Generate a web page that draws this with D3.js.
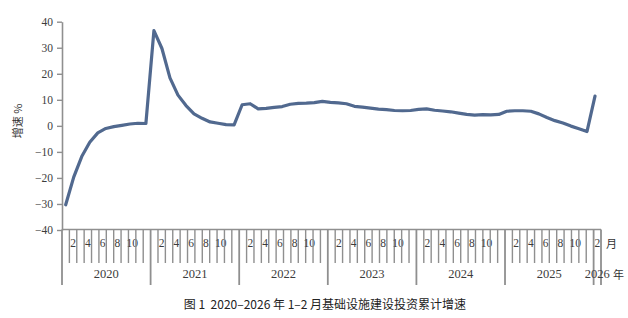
<!DOCTYPE html>
<html>
<head>
<meta charset="utf-8">
<script src="https://cdn.jsdelivr.net/npm/d3@7"></script>
<style>
  body { margin: 0; background: #fff; }
  svg text { font-family: "Liberation Serif", "DejaVu Serif", serif; }
</style>
</head>
<body>
<div id="chart"></div>
<script>
// cumulative growth (%) for 1-2, 1-3, ... 1-12 of each year
const months = [2, 3, 4, 5, 6, 7, 8, 9, 10, 11, 12];
const years = [2020, 2021, 2022, 2023, 2024, 2025];
const v2020 = [-30.3, -19.7, -11.8, -6.3, -2.7, -1.0, -0.3, 0.2, 0.7, 1.0, 0.9];
const v2021 = [36.6, 29.7, 18.4, 11.8, 7.8, 4.6, 2.9, 1.5, 1.0, 0.5, 0.4];
const v2022 = [8.1, 8.5, 6.5, 6.7, 7.1, 7.4, 8.3, 8.6, 8.7, 8.9, 9.4];
const v2023 = [9.0, 8.8, 8.5, 7.5, 7.2, 6.8, 6.4, 6.2, 5.9, 5.8, 5.9];
const v2024 = [6.3, 6.5, 6.0, 5.7, 5.4, 4.9, 4.4, 4.1, 4.3, 4.2, 4.4];
const v2025 = [5.6, 5.8, 5.8, 5.6, 4.6, 3.2, 2.0, 1.1, -0.1, -1.1, -2.2];
const v2026 = [11.4]; // 1-2 only
const monthTickLabels = [2, 4, 6, 8, 10];
const yTicks = [-40, -30, -20, -10, 0, 10, 20, 30, 40];
const titleText = "图 1  2020–2026 年 1–2 月基础设施建设投资累计增速";

const width = 628, height = 318;
const svg = d3.select("#chart").append("svg")
  .attr("width", width).attr("height", height);

// build the series
const seriesByYear = [v2020, v2021, v2022, v2023, v2024, v2025];
let data = [];
years.forEach((yr, i) => {
  months.forEach((m, j) => data.push({ key: yr + "-" + m, value: seriesByYear[i][j] }));
});
data.push({ key: "2026-2", value: v2026[0] });

// axis categories: 12 months per year, 2026 only has month 2
let axisCats = [];
years.forEach(yr => { for (let m = 1; m <= 12; m++) axisCats.push({ year: yr, month: m }); });
axisCats.push({ year: 2026, month: 2 });

const axisColor = "#8f8f8f";
const y = d3.scaleLinear().domain([-40, 40]).range([230, 21.7]);
const xAxisScale = d3.scaleBand()
  .domain(axisCats.map(d => d.year + "-" + d.month))
  .range([62, 601]);
const xLine = d3.scalePoint().domain(data.map(d => d.key)).range([65.7, 595]);

// y axis
const yAxis = svg.append("g")
  .attr("transform", "translate(62,0)")
  .call(d3.axisLeft(y).tickValues(yTicks).tickSize(5).tickSizeOuter(0).tickPadding(4));
yAxis.select(".domain").attr("stroke", axisColor).attr("stroke-width", 1.6);
yAxis.selectAll(".tick line").attr("stroke", axisColor).attr("stroke-width", 1.4);
yAxis.selectAll(".tick text")
  .attr("fill", "#3c3c3c")
  .style("font-size", "11.5px")
  .style("font-family", "'Liberation Serif', serif");

svg.append("text")
  .attr("transform", "translate(17,121) rotate(-90)")
  .attr("text-anchor", "middle")
  .attr("dominant-baseline", "central")
  .style("font-family", "'Noto Sans CJK SC', sans-serif")
  .style("font-size", "11px")
  .attr("fill", "#333")
  .text("增速 %");

// x axis baseline
const xAxisG = svg.append("g");
xAxisG.append("line")
  .attr("x1", xAxisScale.range()[0]).attr("x2", xAxisScale.range()[1])
  .attr("y1", 229.5).attr("y2", 229.5)
  .attr("stroke", axisColor).attr("stroke-width", 1.6);

// month ticks + year separators
axisCats.forEach((d, i) => {
  const key = d.year + "-" + d.month;
  const x0 = xAxisScale(key);
  const isYearStart = i === 0 || axisCats[i - 1].year !== d.year;
  xAxisG.append("line")
    .attr("x1", x0).attr("x2", x0)
    .attr("y1", 229.5).attr("y2", isYearStart ? 285 : 263)
    .attr("stroke", axisColor).attr("stroke-width", isYearStart ? 1.8 : 1.4);
  if (monthTickLabels.includes(d.month)) {
    xAxisG.append("text")
      .attr("x", x0 + xAxisScale.bandwidth() / 2)
      .attr("y", 243)
      .attr("text-anchor", "middle")
      .attr("dominant-baseline", "central")
      .attr("fill", "#3c3c3c")
      .style("font-size", "11.5px")
      .text(d.month);
  }
});
const xEnd = xAxisScale.range()[1];
xAxisG.append("line")
  .attr("x1", xEnd).attr("x2", xEnd)
  .attr("y1", 229.5).attr("y2", 285)
  .attr("stroke", axisColor).attr("stroke-width", 1.8);

// year labels
const allYears = years.concat([2026]);
allYears.forEach(yr => {
  const cats = axisCats.filter(d => d.year === yr);
  const a = xAxisScale(yr + "-" + cats[0].month);
  const b = xAxisScale(yr + "-" + cats[cats.length - 1].month) + xAxisScale.bandwidth();
  xAxisG.append("text")
    .attr("x", (a + b) / 2)
    .attr("y", 274)
    .attr("text-anchor", "middle")
    .attr("dominant-baseline", "central")
    .attr("fill", "#3c3c3c")
    .style("font-size", "12.5px")
    .text(yr);
});
xAxisG.append("text")
  .attr("x", 606).attr("y", 243)
  .attr("dominant-baseline", "central")
  .style("font-family", "'Noto Sans CJK SC', sans-serif")
  .style("font-size", "11px").attr("fill", "#333")
  .text("月");
xAxisG.append("text")
  .attr("x", 613).attr("y", 274)
  .attr("dominant-baseline", "central")
  .style("font-family", "'Noto Sans CJK SC', sans-serif")
  .style("font-size", "11px").attr("fill", "#333")
  .text("年");

// the line
const line = d3.line()
  .x(d => xLine(d.key))
  .y(d => y(d.value));
svg.append("path")
  .datum(data)
  .attr("d", line)
  .attr("fill", "none")
  .attr("stroke", "#51698f")
  .attr("stroke-width", 3.2)
  .attr("stroke-linejoin", "round")
  .attr("stroke-linecap", "round");

// title
svg.append("text")
  .attr("x", 325).attr("y", 303)
  .attr("text-anchor", "middle")
  .attr("dominant-baseline", "central")
  .style("font-family", "'Noto Sans CJK SC', sans-serif")
  .style("font-size", "12px")
  .attr("fill", "#222")
  .attr("xml:space", "preserve")
  .text(titleText);
</script>
</body>
</html>
